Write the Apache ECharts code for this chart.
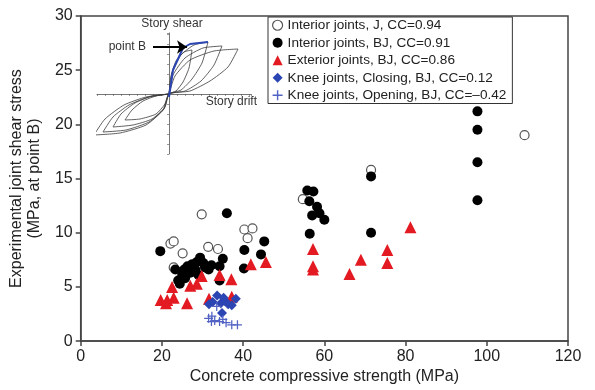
<!DOCTYPE html>
<html>
<head>
<meta charset="utf-8">
<script src="https://cdn.jsdelivr.net/npm/echarts@6/dist/echarts.min.js"></script>
<style>
  html, body { margin: 0; padding: 0; background: #fff; }
  #chart { width: 595px; height: 390px; }
</style>
</head>
<body>
<div id="chart"></div>
<script>
// tick labels
const xTicks = [0, 20, 40, 60, 80, 100, 120];
const yTicks = [0, 5, 10, 15, 20, 25, 30];

// series names
const seriesNames = [
    'Interior joints, J, CC=0.94',
    'Interior joints, BJ, CC=0.91',
    'Exterior joints, BJ, CC=0.86',
    'Knee joints, Closing, BJ, CC=0.12',
    'Knee joints, Opening, BJ, CC=\u20130.42'
];

// [concrete strength MPa, joint shear stress MPa]
const interiorJ = [
    [22.1, 9.0], [22.9, 9.2], [22.9, 6.8], [25.1, 8.1], [29.8, 11.7], [31.4, 8.7],
    [33.8, 8.5], [40.3, 10.3], [42.3, 10.4], [41.1, 9.5], [54.7, 13.1], [71.5, 15.8],
    [109.3, 19.0]
];
const interiorBJ = [
    [19.6, 8.3], [23.3, 6.6], [24.0, 5.6], [24.4, 5.3], [25.0, 6.1], [25.5, 6.6],
    [25.7, 5.8], [26.3, 6.9], [27.0, 6.3], [27.5, 7.1], [28.2, 6.6], [28.6, 7.3],
    [29.0, 6.1], [29.4, 7.7], [30.2, 7.2], [30.6, 6.8], [31.5, 6.6], [32.2, 7.0],
    [34.2, 6.9], [34.2, 5.6], [35.0, 7.6], [36.0, 11.8], [40.3, 8.4], [40.2, 6.7],
    [44.4, 8.0], [45.2, 9.2], [55.8, 13.9], [57.3, 13.8], [56.3, 12.9], [58.2, 12.4],
    [57.0, 11.6], [58.8, 11.8], [60.0, 11.2], [56.4, 9.9], [71.5, 15.2], [71.5, 10.0],
    [97.7, 21.2], [97.7, 19.5], [97.7, 16.5], [97.7, 13.0]
];
const exteriorBJ = [
    [19.7, 3.8], [21.0, 3.5], [21.3, 3.8], [22.9, 4.0], [22.5, 5.0], [26.2, 3.5],
    [27.0, 5.1], [28.6, 5.3], [29.8, 6.0], [31.6, 3.9], [34.2, 6.1], [37.1, 5.7],
    [37.2, 4.1], [41.9, 7.1], [45.6, 7.3], [57.2, 8.5], [57.2, 6.9], [57.2, 6.6],
    [66.2, 6.2], [69.0, 7.5], [75.5, 8.4], [75.5, 7.2], [81.2, 10.5]
];
const kneeClosing = [
    [31.6, 3.4], [32.5, 3.6], [33.6, 4.2], [34.5, 3.5], [35.5, 3.7], [36.3, 3.4],
    [35.2, 4.0], [37.2, 3.3], [38.2, 3.9], [34.8, 2.6]
];
const kneeOpening = [
    [31.5, 2.1], [32.2, 1.8], [33.0, 1.9], [33.5, 3.2], [34.2, 1.8], [35.0, 2.0],
    [35.8, 1.7], [37.2, 1.5], [38.6, 1.5], [32.3, 2.3]
];

// inset sketch: hysteresis loops [story drift, story shear] (arbitrary units)
const loop1 = [[0, 0], [2, 18], [7, 33], [15, 42], [23, 44], [20, 26], [14, 12], [7, 3], [0, 0],
    [-4, -10], [-13, -20], [-29, -25], [-44, -26], [-37, -16], [-26, -7], [-13, -2], [0, 0]];
const loop2 = [[0, 0], [3, 21], [12, 39], [25, 49], [39, 52], [33, 31], [23, 15], [12, 4], [0, 0],
    [-4, -13], [-17, -25], [-36, -31], [-56, -33], [-48, -20], [-34, -9], [-17, -2], [0, 0]];
const loop3 = [[0, 0], [4, 19], [16, 36], [34, 46], [53, 48], [45, 29], [32, 13], [16, 3], [0, 0],
    [-5, -15], [-20, -28], [-43, -36], [-66, -38], [-56, -23], [-40, -11], [-20, -3], [0, 0]];
const loop4 = [[0, 0], [6, 18], [21, 34], [45, 43], [69, 45], [59, 27], [41, 13], [21, 3], [0, 0],
    [-6, -16], [-23, -31], [-49, -39], [-75, -41], [-64, -25], [-45, -11], [-23, -3], [0, 0]];
const envelopeB = [[0, -3], [4, 24], [14, 46], [21, 50], [39, 52]];
const arrowFrom = [-16, 47];
const arrowTo = [18, 47];

function renderJointChart(chartElementId) {
    const chartDom = document.getElementById(chartElementId);
    if (!chartDom) return;
    const myChart = echarts.init(chartDom);

    const font = 'Liberation Sans, Arial, Helvetica, sans-serif';
    const colors = {
        axis: '#444',
        text: '#222',
        open: '#555',
        black: '#000',
        red: '#e31a22',
        blue: '#2b45b3',
        plus: '#5262c4',
        sketch: '#3a3a3a'
    };
    // thin plus sign for the "opening" knee joints
    const plusPath = 'path://M4.3,0h1.4v4.3h4.3v1.4h-4.3v4.3h-1.4v-4.3h-4.3v-1.4h4.3z';

    const loopSeries = [loop1, loop2, loop3, loop4].map(d => ({
        type: 'line',
        xAxisIndex: 1,
        yAxisIndex: 1,
        data: d,
        smooth: 0.2,
        showSymbol: false,
        silent: true,
        lineStyle: { color: colors.sketch, width: 0.8 },
        z: 1
    }));

    const option = {
        backgroundColor: '#fff',
        animation: false,
        grid: [
            {
                left: 74, right: 27, top: 16, bottom: 44,
                show: true,
                borderColor: colors.axis,
                borderWidth: 1.5
            },
            // inset sketch
            { left: 97, width: 154, top: 33, height: 121 }
        ],
        legend: {
            orient: 'vertical',
            left: 268,
            top: 17,
            padding: [1, 6, 1, 4],
            itemGap: 3,
            itemWidth: 10,
            itemHeight: 10,
            borderColor: '#333',
            borderWidth: 1,
            backgroundColor: '#fff',
            textStyle: { fontSize: 13.6, color: colors.text, fontFamily: font, lineHeight: 14.5 },
            data: [
                { name: seriesNames[0], icon: 'circle', itemStyle: { color: '#fff', borderColor: colors.open, borderWidth: 1.2, opacity: 1 } },
                { name: seriesNames[1], icon: 'circle', itemStyle: { color: colors.black, opacity: 1 } },
                { name: seriesNames[2], icon: 'triangle', itemStyle: { color: colors.red, opacity: 1 } },
                { name: seriesNames[3], icon: 'diamond', itemStyle: { color: colors.blue, opacity: 1 } },
                { name: seriesNames[4], icon: plusPath, itemStyle: { color: colors.plus, opacity: 1 } }
            ]
        },
        xAxis: [
            {
                type: 'value',
                min: xTicks[0],
                max: xTicks[xTicks.length - 1],
                interval: 20,
                name: 'Concrete compressive strength (MPa)',
                nameLocation: 'middle',
                nameGap: 23,
                nameTextStyle: { fontSize: 16, color: colors.text, fontFamily: font },
                axisLine: { lineStyle: { color: colors.axis, width: 1.5 } },
                axisTick: { length: 5, lineStyle: { color: colors.axis, width: 1.5 } },
                axisLabel: { fontSize: 16, color: colors.text, fontFamily: font, margin: 7 },
                splitLine: { show: false }
            },
            {
                type: 'value',
                gridIndex: 1,
                min: -72,
                max: 82,
                interval: 8,
                axisLine: { onZero: true, lineStyle: { color: '#555', width: 0.8 } },
                axisTick: { length: 2, lineStyle: { color: '#555', width: 0.6 } },
                axisLabel: { show: false },
                splitLine: { show: false }
            }
        ],
        yAxis: [
            {
                type: 'value',
                min: yTicks[0],
                max: yTicks[yTicks.length - 1],
                interval: 5,
                name: 'Experimental joint shear stress\n(MPa, at point B)',
                nameLocation: 'middle',
                nameGap: 22,
                nameTextStyle: { fontSize: 16, color: colors.text, fontFamily: font, lineHeight: 18 },
                axisLine: { show: true, lineStyle: { color: colors.axis, width: 1.5 } },
                axisTick: { show: true, length: 5, lineStyle: { color: colors.axis, width: 1.5 } },
                axisLabel: { fontSize: 16, color: colors.text, fontFamily: font, margin: 8 },
                splitLine: { show: false }
            },
            {
                type: 'value',
                gridIndex: 1,
                min: -60,
                max: 61,
                interval: 10,
                axisLine: { onZero: true, lineStyle: { color: '#555', width: 0.8 } },
                axisTick: { length: 2, lineStyle: { color: '#555', width: 0.6 } },
                axisLabel: { show: false },
                splitLine: { show: false }
            }
        ],
        graphic: [
            { type: 'text', x: 172, y: 24, style: { text: 'Story shear', fontSize: 12, fontFamily: font, fill: '#333', align: 'center', verticalAlign: 'middle' } },
            { type: 'text', x: 146, y: 47, style: { text: 'point B', fontSize: 12, fontFamily: font, fill: '#333', align: 'right', verticalAlign: 'middle' } },
            { type: 'text', x: 257, y: 102, style: { text: 'Story drift', fontSize: 12, fontFamily: font, fill: '#333', align: 'right', verticalAlign: 'middle' } }
        ],
        series: [
            ...loopSeries,
            {
                type: 'line',
                xAxisIndex: 1,
                yAxisIndex: 1,
                data: envelopeB,
                showSymbol: false,
                silent: true,
                lineStyle: { color: colors.blue, width: 2 },
                z: 2,
                markLine: {
                    silent: true,
                    symbol: ['none', 'arrow'],
                    symbolSize: [10, 10],
                    label: { show: false },
                    lineStyle: { color: '#000', width: 2, type: 'solid' },
                    data: [[{ coord: arrowFrom }, { coord: arrowTo }]]
                }
            },
            {
                name: seriesNames[0],
                type: 'scatter',
                data: interiorJ,
                symbol: 'circle',
                symbolSize: 9,
                itemStyle: { color: '#fff', borderColor: colors.open, borderWidth: 1.2, opacity: 1 },
                emphasis: { disabled: true },
                z: 3
            },
            {
                name: seriesNames[1],
                type: 'scatter',
                data: interiorBJ,
                symbol: 'circle',
                symbolSize: 10,
                itemStyle: { color: colors.black, opacity: 1 },
                emphasis: { disabled: true },
                z: 4
            },
            {
                name: seriesNames[2],
                type: 'scatter',
                data: exteriorBJ,
                symbol: 'triangle',
                symbolSize: 12,
                itemStyle: { color: colors.red, opacity: 1 },
                emphasis: { disabled: true },
                z: 5
            },
            {
                name: seriesNames[3],
                type: 'scatter',
                data: kneeClosing,
                symbol: 'diamond',
                symbolSize: 10,
                itemStyle: { color: colors.blue, opacity: 1 },
                emphasis: { disabled: true },
                z: 6
            },
            {
                name: seriesNames[4],
                type: 'scatter',
                data: kneeOpening,
                symbol: plusPath,
                symbolSize: 9,
                itemStyle: { color: colors.plus, opacity: 1 },
                emphasis: { disabled: true },
                z: 7
            }
        ]
    };

    myChart.setOption(option);
    window.addEventListener('resize', () => myChart.resize());
}

renderJointChart('chart');
</script>
</body>
</html>
